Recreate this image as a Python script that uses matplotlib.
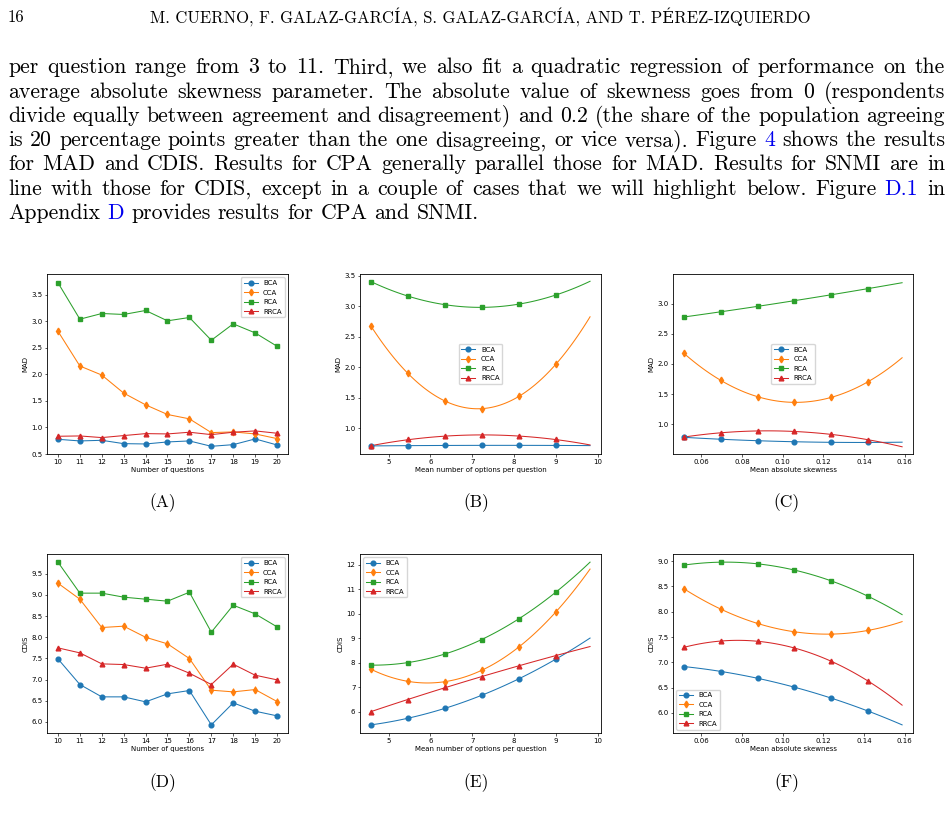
import matplotlib
matplotlib.use("Agg")
import matplotlib.pyplot as plt
from matplotlib.lines import Line2D
import numpy as np

# ---- data ----
questions = list(range(10, 21))
options_x = [4.578, 5.46, 6.345, 7.23, 8.11, 8.997]
options_end = 9.817
skew_x = [0.0515, 0.0696, 0.0877, 0.1058, 0.1239, 0.142]
skew_end = 0.1587

# (A) MAD vs number of questions
mad_q_bca = [0.777, 0.746, 0.758, 0.695, 0.689, 0.727, 0.746, 0.645, 0.676, 0.784, 0.670]
mad_q_cca = [2.812, 2.157, 1.987, 1.647, 1.426, 1.244, 1.162, 0.903, 0.916, 0.878, 0.790]
mad_q_rca = [3.726, 3.039, 3.146, 3.128, 3.203, 3.008, 3.071, 2.642, 2.951, 2.781, 2.529]
mad_q_rrca = [0.834, 0.840, 0.809, 0.847, 0.884, 0.878, 0.910, 0.865, 0.910, 0.935, 0.891]

# (B) MAD vs mean number of options
mad_o_bca = [0.713, 0.716, 0.720, 0.722, 0.722, 0.720]
mad_o_cca = [2.678, 1.900, 1.453, 1.320, 1.524, 2.049]
mad_o_rca = [3.406, 3.168, 3.025, 2.986, 3.036, 3.185]
mad_o_rrca = [0.713, 0.818, 0.873, 0.890, 0.873, 0.818]

# (C) MAD vs mean absolute skewness
mad_s_bca = [0.785, 0.757, 0.729, 0.713, 0.702, 0.702]
mad_s_cca = [2.177, 1.729, 1.459, 1.365, 1.448, 1.707]
mad_s_rca = [2.779, 2.862, 2.956, 3.050, 3.144, 3.249]
mad_s_rrca = [0.790, 0.862, 0.890, 0.884, 0.834, 0.746]

# (D) CDIS vs number of questions
cdis_q_bca = [7.489, 6.883, 6.591, 6.591, 6.473, 6.662, 6.741, 5.929, 6.449, 6.252, 6.142]
cdis_q_cca = [9.278, 8.900, 8.230, 8.262, 8.000, 7.844, 7.497, 6.749, 6.709, 6.764, 6.481]
cdis_q_rca = [9.776, 9.043, 9.043, 8.948, 8.900, 8.853, 9.065, 8.120, 8.758, 8.553, 8.246]
cdis_q_rrca = [7.749, 7.631, 7.371, 7.355, 7.269, 7.363, 7.151, 6.883, 7.363, 7.103, 6.993]

# (E) CDIS vs mean number of options
cdis_o_bca = [5.458, 5.729, 6.135, 6.664, 7.341, 8.140]
cdis_o_cca = [7.734, 7.233, 7.219, 7.693, 8.641, 10.063]
cdis_o_rca = [7.897, 8.005, 8.357, 8.940, 9.793, 10.877]
cdis_o_rrca = [6.000, 6.488, 6.989, 7.422, 7.869, 8.289]

# (F) CDIS vs mean absolute skewness
cdis_s_bca = [6.917, 6.819, 6.688, 6.511, 6.288, 6.039]
cdis_s_cca = [8.456, 8.050, 7.769, 7.605, 7.559, 7.631]
cdis_s_rca = [8.921, 8.980, 8.948, 8.823, 8.607, 8.306]
cdis_s_rrca = [7.297, 7.421, 7.415, 7.284, 7.022, 6.629]

# error bar half-widths of the CCA markers (estimated)
cca_err_a, cca_err_b, cca_err_c = 0.05, 0.04, 0.05
cca_err_d, cca_err_e, cca_err_f = 0.08, 0.12, 0.06

# y ranges of the MAD panels as they appear on the page
mad_q_ylim = (0.5, 3.89)
mad_o_ylim = (0.58, 3.53)
mad_s_ylim = (0.51, 3.49)

series_names = ["BCA", "CCA", "RCA", "RRCA"]
series_colors = ["#1f77b4", "#ff7f0e", "#2ca02c", "#d62728"]
series_markers = ["o", "d", "s", "^"]

header_num = "16"
header_title = "M. CUERNO, F. GALAZ-GARCÍA, S. GALAZ-GARCÍA, AND T. PÉREZ-IZQUIERDO"
body_lines = [
    "per question range from 3 to 11. Third, we also fit a quadratic regression of performance on the",
    "average absolute skewness parameter. The absolute value of skewness goes from 0 (respondents",
    "divide equally between agreement and disagreement) and 0.2 (the share of the population agreeing",
    "is 20 percentage points greater than the one disagreeing, or vice versa). Figure 4 shows the results",
    "for MAD and CDIS. Results for CPA generally parallel those for MAD. Results for SNMI are in",
    "line with those for CDIS, except in a couple of cases that we will highlight below. Figure D.1 in",
    "Appendix D provides results for CPA and SNMI.",
]
link_words = {"4", "D.1", "D"}
panel_labels = ["(A)", "(B)", "(C)", "(D)", "(E)", "(F)"]

# ---- page layout (pixels) ----
W, H = 953, 822
fig = plt.figure(figsize=(W / 100, H / 100), dpi=100)
serif = ["cmr10", "DejaVu Serif"]

TICK_FS = 5.0
LW = 0.75
MS = 3.4


def px_rect(x0, y0, x1, y1):
    return [x0 / W, 1 - y1 / H, (x1 - x0) / W, (y1 - y0) / H]


def style_axes(ax, xlabel, ylabel):
    ax.set_xlabel(xlabel, fontsize=TICK_FS, labelpad=1.5)
    ax.set_ylabel(ylabel, fontsize=TICK_FS, labelpad=2)
    ax.tick_params(labelsize=TICK_FS, length=1.8, width=0.45, pad=1.5)
    for sp in ax.spines.values():
        sp.set_linewidth(0.6)


def legend_handles():
    return [Line2D([], [], color=c, marker=m, lw=LW, ms=MS)
            for c, m in zip(series_colors, series_markers)]


def draw_lines(ax, x, ys, cca_err):
    for name, y, c, m in zip(series_names, ys, series_colors, series_markers):
        err = cca_err if name == "CCA" else None
        ax.errorbar(x, y, yerr=err, color=c, marker=m, ms=MS, lw=LW,
                    elinewidth=0.6, capsize=0)


def draw_fits(ax, x, x_end, ys, cca_err):
    xx = np.linspace(x[0], x_end, 120)
    for name, y, c, m in zip(series_names, ys, series_colors, series_markers):
        coef = np.polyfit(x, y, 2)
        ax.plot(xx, np.polyval(coef, xx), color=c, lw=LW)
        err = cca_err if name == "CCA" else None
        ax.errorbar(x, y, yerr=err, color=c, marker=m, ms=MS, ls="none",
                    elinewidth=0.6, capsize=0)


rects = [
    px_rect(47, 274, 288, 454), px_rect(360, 274, 601, 454), px_rect(673, 274, 913, 454),
    px_rect(47, 554, 288, 733), px_rect(360, 554, 601, 733), px_rect(673, 554, 913, 733),
]
axs = [fig.add_axes(r) for r in rects]

# (A)
draw_lines(axs[0], questions, [mad_q_bca, mad_q_cca, mad_q_rca, mad_q_rrca], cca_err_a)
axs[0].set_xticks(questions)
axs[0].set_ylim(*mad_q_ylim)
style_axes(axs[0], "Number of questions", "MAD")
axs[0].legend(legend_handles(), series_names, loc="upper right", fontsize=TICK_FS)

# (B)
draw_fits(axs[1], options_x, options_end, [mad_o_bca, mad_o_cca, mad_o_rca, mad_o_rrca], cca_err_b)
axs[1].set_ylim(*mad_o_ylim)
style_axes(axs[1], "Mean number of options per question", "MAD")
axs[1].legend(legend_handles(), series_names, loc="center", fontsize=TICK_FS)

# (C)
draw_fits(axs[2], skew_x, skew_end, [mad_s_bca, mad_s_cca, mad_s_rca, mad_s_rrca], cca_err_c)
axs[2].set_ylim(*mad_s_ylim)
style_axes(axs[2], "Mean absolute skewness", "MAD")
axs[2].legend(legend_handles(), series_names, loc="center", fontsize=TICK_FS)

# (D)
draw_lines(axs[3], questions, [cdis_q_bca, cdis_q_cca, cdis_q_rca, cdis_q_rrca], cca_err_d)
axs[3].set_xticks(questions)
style_axes(axs[3], "Number of questions", "CDIS")
axs[3].legend(legend_handles(), series_names, loc="upper right", fontsize=TICK_FS)

# (E)
draw_fits(axs[4], options_x, options_end, [cdis_o_bca, cdis_o_cca, cdis_o_rca, cdis_o_rrca], cca_err_e)
style_axes(axs[4], "Mean number of options per question", "CDIS")
axs[4].legend(legend_handles(), series_names, loc="upper left", fontsize=TICK_FS)

# (F)
draw_fits(axs[5], skew_x, skew_end, [cdis_s_bca, cdis_s_cca, cdis_s_rca, cdis_s_rrca], cca_err_f)
style_axes(axs[5], "Mean absolute skewness", "CDIS")
axs[5].legend(legend_handles(), series_names, loc="lower left", fontsize=TICK_FS)

# panel captions
for lab, (cx, cy) in zip(panel_labels, [(163, 503), (476, 503), (787, 503),
                                         (163, 783), (476, 783), (787, 783)]):
    fig.text(cx / W, 1 - cy / H, lab, fontsize=12.5, family=serif, ha="center", va="center")

# running header
fig.text(8 / W, 1 - 22.5 / H, header_num, fontsize=12, family=serif, va="baseline")
fig.text(480 / W, 1 - 22.5 / H, header_title, fontsize=12, family=serif,
         ha="center", va="baseline")

# justified body paragraph
renderer = fig.canvas.get_renderer()
left, right = 8, 945
BODY_FS = 15.7
for i, line in enumerate(body_lines):
    y = 1 - (73.3 + i * 24.3) / H
    words = line.split()
    texts = [fig.text(0, y, w, fontsize=BODY_FS, family=serif, va="baseline",
                      color="#0000ee" if w in link_words else "black") for w in words]
    widths = [t.get_window_extent(renderer).width for t in texts]
    if i < len(body_lines) - 1:
        gap = (right - left - sum(widths)) / (len(words) - 1)
    else:
        gap = 0.333 * BODY_FS * 100 / 72
    x = left
    for t, w in zip(texts, widths):
        t.set_x(x / W)
        x += w + gap

fig.savefig("out.png", dpi=100)
